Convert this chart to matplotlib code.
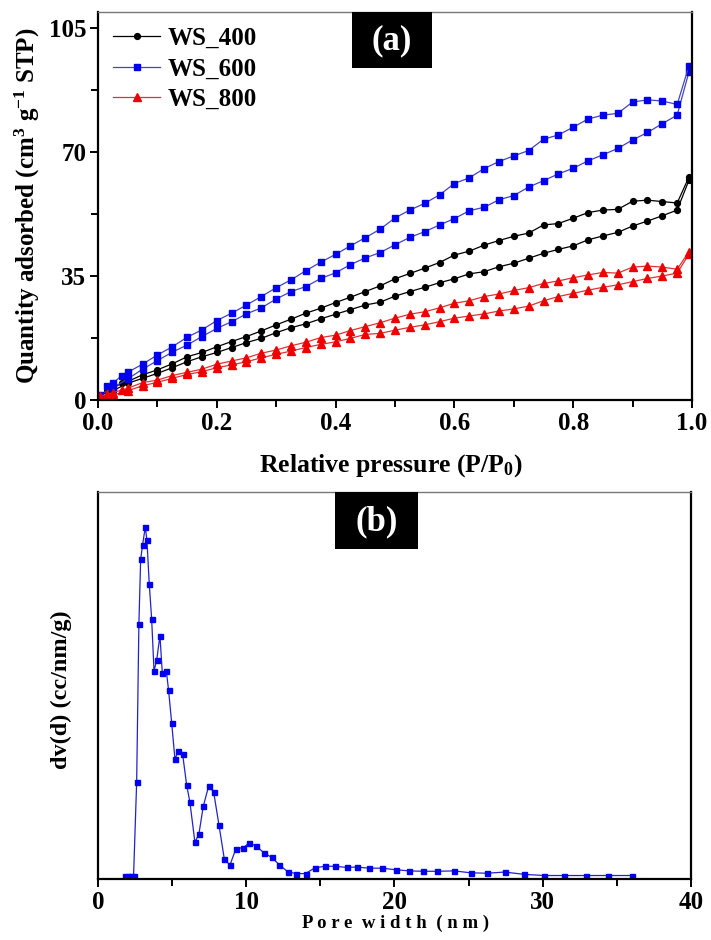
import matplotlib
matplotlib.use("Agg")
import matplotlib.pyplot as plt
from matplotlib.patches import Rectangle
from matplotlib.ticker import MultipleLocator, NullLocator

plt.rcParams['font.family'] = ['Liberation Serif', 'DejaVu Serif']
plt.rcParams['font.weight'] = 'bold'
plt.rcParams['mathtext.default'] = 'regular'

# --- (a) N2 isotherms, adsorption branch (ads) and desorption branch (des) ---
p_ads = [0.003, 0.025, 0.05, 0.075, 0.1, 0.125, 0.15, 0.175, 0.2, 0.225, 0.25,
         0.275, 0.3, 0.325, 0.35, 0.375, 0.4, 0.425, 0.45, 0.475, 0.5, 0.525,
         0.55, 0.575, 0.6, 0.625, 0.65, 0.675, 0.7, 0.725, 0.75, 0.775, 0.8,
         0.825, 0.85, 0.875, 0.9, 0.925, 0.95, 0.975, 0.995]
p_des = [0.995, 0.975, 0.95, 0.925, 0.9, 0.875, 0.85, 0.825, 0.8, 0.775, 0.75,
         0.725, 0.7, 0.675, 0.65, 0.625, 0.6, 0.575, 0.55, 0.525, 0.5, 0.475,
         0.45, 0.425, 0.4, 0.375, 0.35, 0.325, 0.3, 0.275, 0.25, 0.225, 0.2,
         0.175, 0.15, 0.125, 0.1, 0.075, 0.05, 0.04, 0.025, 0.015]

ws400_ads = [1.4, 2.6, 4.7, 6.1, 7.5, 9.1, 10.8, 12.2, 13.4, 14.8, 16.2,
             17.4, 19.0, 20.4, 21.5, 22.9, 24.2, 25.5, 26.8, 27.6, 29.3, 30.6,
             31.8, 33.1, 34.2, 35.6, 36.2, 37.6, 38.6, 40.0, 41.4, 42.5, 43.5,
             45.2, 46.3, 47.3, 49.1, 50.5, 52.0, 53.6, 62.1]
ws400_des = [63.0, 55.6, 56.0, 56.4, 56.1, 53.8, 53.6, 52.9, 51.3, 49.8, 49.4,
             47.1, 46.2, 45.0, 43.7, 42.0, 40.9, 38.8, 37.2, 35.7, 34.2, 32.2,
             30.6, 29.0, 27.5, 25.9, 24.5, 22.8, 21.2, 19.5, 17.9, 16.5, 15.0,
             13.4, 12.2, 10.2, 8.5, 7.1, 5.2, 4.7, 3.4, 2.6]

ws600_ads = [1.4, 3.5, 5.9, 8.7, 11.1, 13.5, 15.5, 17.9, 20.2, 22.1, 24.3,
             26.0, 28.5, 30.6, 32.0, 34.3, 35.9, 38.2, 40.1, 41.6, 43.8, 45.9,
             47.5, 49.4, 51.2, 53.4, 54.4, 56.5, 57.7, 60.1, 61.9, 63.8, 65.4,
             67.5, 69.2, 71.0, 73.4, 75.5, 78.0, 80.4, 92.7]
ws600_des = [94.4, 83.4, 84.4, 84.7, 84.1, 80.9, 80.4, 79.3, 77.0, 74.8, 73.6,
             70.4, 68.9, 67.3, 65.3, 62.7, 61.1, 57.9, 55.5, 53.6, 51.4, 48.2,
             45.8, 43.5, 41.1, 38.9, 36.5, 33.9, 31.7, 29.2, 26.8, 24.5, 22.4,
             19.8, 17.7, 15.0, 12.7, 10.1, 7.8, 6.9, 4.7, 4.0]

ws800_ads = [1.2, 1.4, 2.6, 4.0, 5.0, 6.1, 7.2, 8.0, 9.1, 9.9, 10.8,
             11.9, 12.9, 13.8, 14.8, 15.7, 16.4, 17.4, 18.5, 18.8, 19.7, 20.5,
             21.2, 22.1, 23.1, 23.7, 24.3, 25.1, 25.7, 26.5, 28.0, 29.2, 30.1,
             31.0, 31.8, 32.5, 33.4, 34.3, 35.0, 35.8, 41.2]
ws800_des = [41.9, 36.9, 37.5, 37.8, 37.5, 35.8, 36.0, 35.3, 34.5, 33.6, 32.9,
             31.7, 30.9, 29.9, 29.2, 28.0, 27.3, 26.0, 24.9, 24.2, 23.1, 21.8,
             20.7, 19.6, 18.3, 17.6, 16.3, 15.3, 14.1, 13.2, 11.9, 11.0, 10.1,
             8.7, 7.8, 6.9, 5.6, 4.9, 3.3, 2.8, 2.1, 1.6]

# --- (b) pore size distribution (relative units) ---
pore_w = [1.8, 2.0, 2.2, 2.4, 2.61, 2.76, 2.88, 3.01, 3.19, 3.30, 3.46, 3.62,
          3.78, 3.96, 4.18, 4.34, 4.61, 4.76, 4.97, 5.19, 5.41, 5.71, 5.98,
          6.20, 6.54, 6.81, 7.10, 7.46, 7.80, 8.16, 8.52, 8.90, 9.31, 9.80,
          10.18, 10.65, 11.19, 11.71, 12.23, 12.79, 13.35, 14.00, 14.63, 15.31,
          15.98, 16.77, 17.46, 18.27, 19.17, 20.07, 20.97, 21.94, 22.88, 24.03,
          25.13, 26.25, 27.44, 28.74, 30.09, 31.44, 32.91, 34.37, 35.99]
dv = [0.004, 0.004, 0.004, 0.004, 0.249, 0.659, 0.826, 0.863, 0.909, 0.876,
      0.761, 0.671, 0.536, 0.564, 0.628, 0.530, 0.536, 0.487, 0.402, 0.308,
      0.328, 0.320, 0.241, 0.196, 0.092, 0.114, 0.185, 0.237, 0.223, 0.137,
      0.049, 0.033, 0.076, 0.078, 0.090, 0.083, 0.065, 0.053, 0.034, 0.016,
      0.011, 0.011, 0.026, 0.030, 0.030, 0.027, 0.028, 0.025, 0.025, 0.021,
      0.018, 0.017, 0.017, 0.018, 0.013, 0.012, 0.015, 0.009, 0.006, 0.006,
      0.006, 0.006, 0.006]

fig = plt.figure(figsize=(7.11, 9.40), dpi=100)
ax1 = fig.add_axes([0.1378, 0.5745, 0.8355, 0.4127])
ax2 = fig.add_axes([0.1378, 0.0649, 0.8341, 0.4117])

series = [
    ('WS_400', ws400_ads, ws400_des, 'black', 'black', 'o', 4.2),
    ('WS_600', ws600_ads, ws600_des, '#0000ee', '#4444bb', 's', 4.2),
    ('WS_800', ws800_ads, ws800_des, '#ee0000', '#dd3333', '^', 5.2),
]
for name, ads, des, mc, lc, mk, ms in series:
    ax1.plot(p_ads, ads, color=lc, lw=0.9, marker=mk, ms=ms, mfc=mc, mec=mc, label=name)
    ax1.plot(p_des, des, color=lc, lw=0.9, marker=mk, ms=ms, mfc=mc, mec=mc)

ax1.set_xlim(0, 1.0)
ax1.set_ylim(0, 109.5)
ax1.xaxis.set_major_locator(MultipleLocator(0.2))
ax1.xaxis.set_minor_locator(MultipleLocator(0.1))
ax1.yaxis.set_major_locator(MultipleLocator(35))
ax1.yaxis.set_minor_locator(MultipleLocator(17.5))
ax1.xaxis.set_major_formatter(plt.FuncFormatter(lambda v, p: '%.1f' % v))
ax1.set_xlabel('Relative pressure (P/P$_0$)', fontsize=18.5, fontweight='bold')
ax1.set_ylabel('Quantity adsorbed (cm$^{3}$ g$^{-1}$ STP)', fontsize=18, fontweight='bold')
ax1.xaxis.set_label_coords(0.493, -0.135)
ax1.yaxis.set_label_coords(-0.094, 0.50)
leg = ax1.legend(loc='upper left', frameon=False, fontsize=18, handlelength=1.9,
                 handletextpad=0.3, labelspacing=0.3, borderaxespad=0.2,
                 bbox_to_anchor=(0.0, 1.0))

ax2.plot(pore_w, dv, color='#2222cc', lw=0.9, marker='s', ms=3.6, mfc='#0000ee', mec='#0000ee')
ax2.set_xlim(0, 40)
ax2.set_ylim(-0.003, 1.0)
ax2.xaxis.set_major_locator(MultipleLocator(10))
ax2.xaxis.set_minor_locator(MultipleLocator(5))
ax2.yaxis.set_major_locator(NullLocator())
ax2.set_xlabel('P o r e  w i d t h  ( n m )', fontsize=13.5, fontweight='bold')
ax2.set_ylabel('dv(d) (cc/nm/g)', fontsize=17.5, fontweight='bold')
ax2.xaxis.set_label_coords(0.502, -0.093)
ax2.yaxis.set_label_coords(-0.043, 0.49)

for ax in (ax1, ax2):
    ax.tick_params(which='both', direction='out', top=False, right=False, width=1.4)
    ax.tick_params(which='major', length=5.5, labelsize=18, pad=3)
    ax.tick_params(which='minor', length=5)
    for lab in ax.get_xticklabels() + ax.get_yticklabels():
        lab.set_fontweight('bold')
    for s in ('left', 'bottom', 'right'):
        ax.spines[s].set_linewidth(1.6)
    ax.spines['top'].set_linewidth(1.0)
    ax.spines['top'].set_color('#777777')

# panel tags
ax1.add_patch(Rectangle((0.427, 0.856), 0.135, 0.144, transform=ax1.transAxes,
                        facecolor='black', edgecolor='none', zorder=5))
ax1.text(0.4945, 0.926, '(a)', transform=ax1.transAxes, color='white', fontsize=25,
         fontweight='bold', ha='center', va='center', zorder=6)
ax2.add_patch(Rectangle((0.4, 0.853), 0.14, 0.147, transform=ax2.transAxes,
                        facecolor='black', edgecolor='none', zorder=5))
ax2.text(0.47, 0.924, '(b)', transform=ax2.transAxes, color='white', fontsize=25,
         fontweight='bold', ha='center', va='center', zorder=6)

fig.savefig('out.png', dpi=100)
